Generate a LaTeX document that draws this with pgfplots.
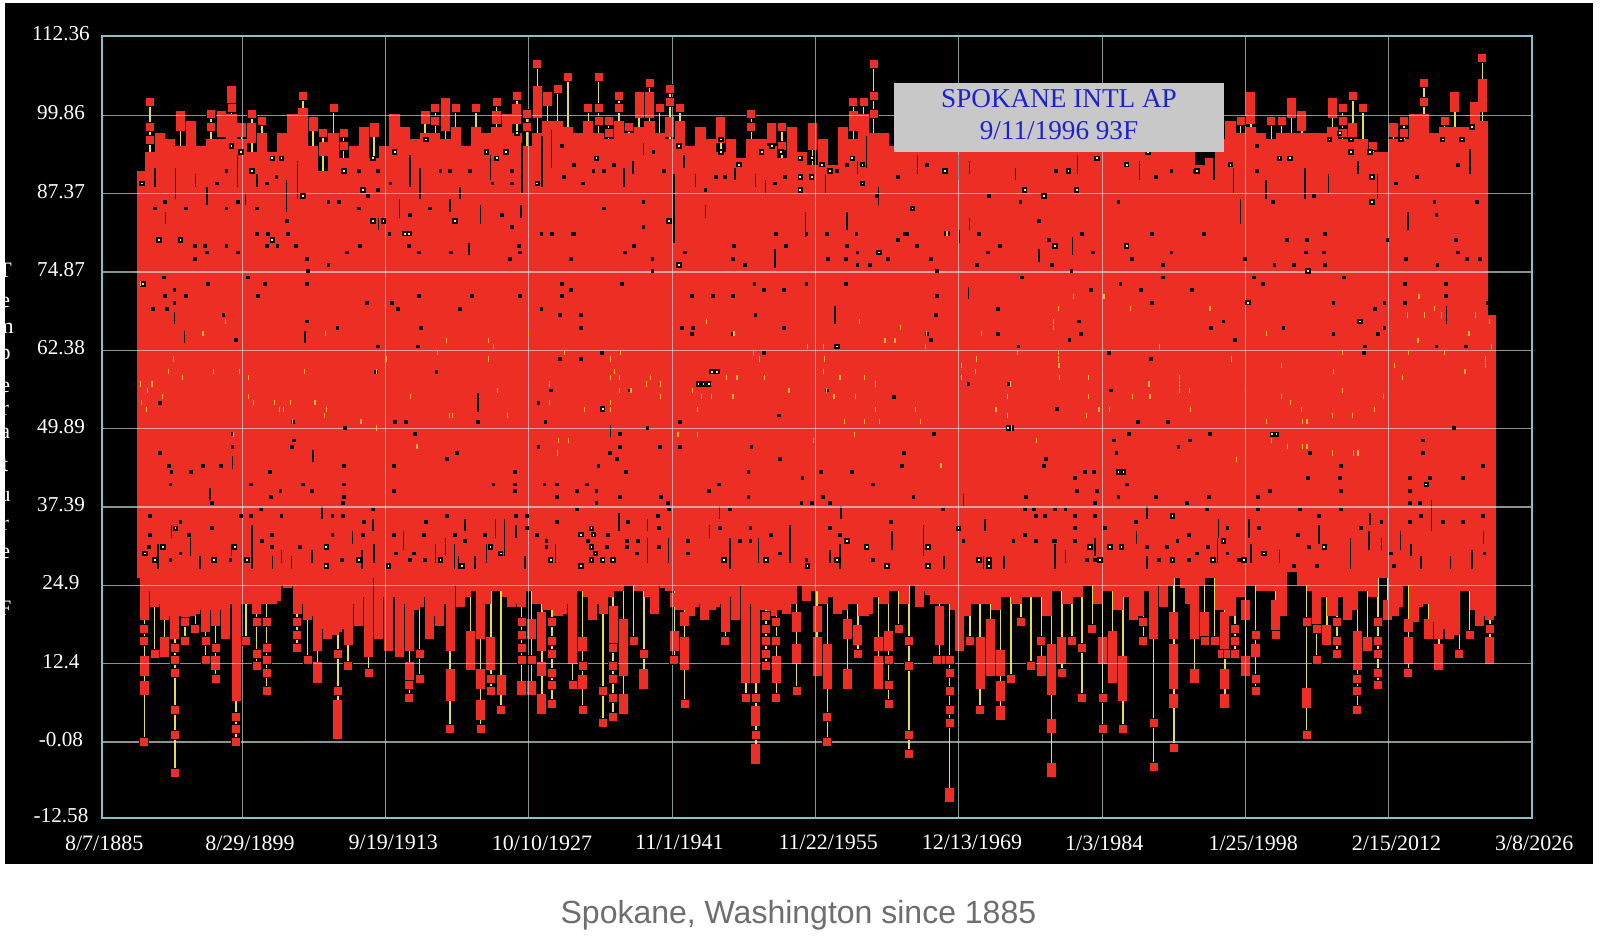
\documentclass[border=0pt]{standalone}
\usepackage{pgfplots}
\usepackage{pgfplotstable}
\usepackage{fontspec}
\pgfplotsset{compat=1.18}
\setmainfont{Liberation Serif}
\newfontfamily\capfont{Liberation Sans}
\definecolor{chartred}{HTML}{EC2E24}
\definecolor{stem}{HTML}{E4DC50}
\definecolor{ybright}{HTML}{FFE84A}
\definecolor{yorange}{HTML}{F7B52F}
\definecolor{frame}{HTML}{86C0C8}
\definecolor{gridc}{HTML}{CBE6E6}
\definecolor{boxgray}{HTML}{C8C8C8}
\definecolor{boxblue}{HTML}{1E22CC}
\definecolor{captiongray}{HTML}{6E6E6E}
\pgfplotsset{
  seg/.style 2 args={draw=none,mark=none,error bars/.cd,y dir=plus,y explicit,error mark=none,
    error bar style={line width=#1,color=#2,solid}},
  dots/.style 2 args={only marks,mark=square*,mark size=#1,mark options={draw=none,fill=#2,solid}},
}
\pgfplotstableread[row sep=\\]{x y\\
1902.6 80\\ 1912.5 83\\ 1913.5 83\\ 1915.6 81\\ 1920.5 83\\ 1891.5 80\\ 1893.6 80\\ 1889.8 89\\ 1889.9 73\\
1898.6 95\\ 1899.5 94\\ 1900.6 91\\ 1902.6 93\\ 1903.5 93\\ 1905.6 87\\ 1909.6 91\\ 1911.5 88\\ 1912.5 93\\ 1914.6 94\\ 1917.7 96\\ 1923.6 94\\ 1924.6 93\\
1925.5 94\\ 1926.6 97\\ 1934.4 93\\ 1928.6 89\\ 1942.5 95\\ 1946.6 96\\ 1946.6 94\\ 1952.5 94\\ 1948.4 92\\ 1956.5 92\\ 1960.5 92\\ 1959.5 93\\ 1960.5 89\\ 1954.4 88\\ 1955.5 90\\ 1954.4 90\\ 1957.3 91\\ 1941.5 83\\ 1950.6 94\\ 1951.6 95\\ 1954.4 93\\ 1955.5 93\\
1960.5 92\\ 1968.6 91\\ 1980.7 91\\ 1976.4 88\\ 1965.4 85\\ 1981.5 88\\ 1978.3 87\\ 1983.5 93\\ 1986.4 92\\ 1988.5 94\\ 1993.3 91\\ 1996.6 92\\ 2010.5 90\\ 2010.5 86\\ 2001.4 93\\ 2002.4 93\\ 2006.3 96\\ 2008.4 96\\ 2008.4 94\\ 2010.3 94\\ 2017.4 96\\ 2013.3 96\\ 2019.3 96\\ 2020.3 98\\ 2007.3 97\\
1916.0 81\\ 1893.1 34\\ 1891.9 31\\ 1898.9 31\\ 1890.1 30\\ 1891.1 29\\ 1896.9 29\\ 1900.1 29\\ 1907.9 31\\ 1924.0 31\\ 1925.0 30\\ 1919.1 29\\ 1929.9 29\\ 1932.9 33\\ 1933.9 34\\ 1933.9 29\\ 1911.1 29\\ 1914.0 28\\ 1921.2 28\\ 1907.9 28\\ 1932.9 28\\ 1933.9 31\\
1942.5 76\\ 1968.8 81\\ 1979.4 79\\ 1962.1 78\\ 1958.0 63\\ 1934.1 33\\ 1959.0 32\\ 1960.9 31\\ 1966.9 31\\ 1934.3 30\\ 1935.0 29\\ 1936.0 29\\ 1946.9 29\\ 1951.0 29\\ 1958.0 29\\ 1972.9 29\\ 1971.9 29\\ 1955.1 28\\ 1962.9 28\\ 1972.9 28\\ 1966.9 28\\ 1969.9 34\\
1935.0 53\\ 1945.7 59\\ 1946.2 59\\ 1944.4 57\\ 1944.9 57\\ 1945.4 57\\ 1974.8 50\\ 1975.1 50\\
1979.4 79\\ 1986.4 79\\ 1990.9 36\\ 1995.9 32\\ 1982.8 31\\ 1984.8 31\\ 1985.9 31\\ 2005.8 31\\ 1983.8 29\\ 1990.9 29\\ 1994.9 29\\ 1999.9 30\\ 1997.9 29\\ 1985.6 43\\ 1986.1 43\\ 2015.8 41\\ 2000.7 49\\ 2001.1 49\\ 2004.2 75\\ 2009.3 67\\ 1998.3 70\\
}\yflank
\begin{document}
\begin{tikzpicture}[x=1pt,y=1pt]
\useasboundingbox (0,0) rectangle (800,469.5);
\fill[white] (0,0) rectangle (800,469.5);
\fill[black] (2.5,37.5) rectangle (796.5,468);
\begin{scope}
\clip (2.5,37.5) rectangle (796.5,468);
\foreach \yy/\ll in {270/T,302/e,328/m,357/p,387/e,410/r,433/a,465/t,497/u,525/r,553/e,608/F}{
  \node[text=white,font=\fontsize{11}{12}\selectfont,inner sep=0pt] at (2.6,{(939-\yy)/2}) {\ll};}
\end{scope}
\begin{axis}[
  at={(51pt,60.35pt)},anchor=south west,
  scale only axis,width=715pt,height=391.3pt,
  xmin=1885.9,xmax=2026.18,ymin=-12.25,ymax=112.55,
  axis on top,
  xtick={1885.9,1899.66,1913.72,1927.77,1941.83,1955.89,1969.95,1984.01,1998.07,2012.13,2026.18},
  xticklabels={8/7/1885,8/29/1899,9/19/1913,10/10/1927,11/1/1941,11/22/1955,12/13/1969,1/3/1984,1/25/1998,2/15/2012,3/8/2026},
  ytick={-12.25,-0.08,12.4,24.9,37.39,49.89,62.38,74.87,87.37,99.86,112.55},
  yticklabels={-12.58,-0.08,12.4,24.9,37.39,49.89,62.38,74.87,87.37,99.86,112.36},
  major tick length=0pt,
  grid=major,
  grid style={line width=0.55pt,color=gridc,opacity=0.65},
  axis line style={line width=1.1pt,color=frame},
  xticklabel style={anchor=north west,xshift=-22pt,yshift=-5pt,text=white,font=\fontsize{11}{13}\selectfont},
  yticklabel style={anchor=center,xshift=-20.5pt,yshift=1.25pt,text=white,font=\fontsize{10.6}{12}\selectfont},
]
% yellow stems, summers
\addplot[seg={0.75pt}{stem}] table[x index=0,y index=1,y error expr=\thisrowno{2}-\thisrowno{1},row sep=\\]{x lo hi\\
1890.6 94 102\\ 1893.6 95 100\\ 1896.6 96 100\\ 1898.6 100 104\\ 1899.6 96 98\\ 1900.6 94 100\\ 1901.6 97 99\\ 1905.6 101 103\\ 1906.6 95 99\\ 1907.6 91 97\\ 1908.6 97 101\\ 1909.6 93 97\\ 1912.6 93 98\\ 1917.6 97 100\\ 1918.6 97 101\\ 1919.6 96 102\\ 1920.6 98 101\\ 1922.6 98 101\\ 1924.6 98 102\\ 1926.6 97 103\\ 1927.6 95 100\\ 1928.6 97 108\\ 1929.6 99 103\\ 1930.6 99 104\\ 1931.6 98 106\\ 1933.6 99 101\\ 1934.6 97 106\\ 1935.6 96 99\\ 1936.6 99 103\\ 1937.6 97 98\\ 1938.6 98 103\\ 1939.6 99 105\\ 1940.6 97 101\\ 1941.6 96 104\\ 1942.6 99 101\\ 1946.6 94 99\\ 1949.6 96 100\\ 1951.6 95 98\\ 1952.6 93 98\\ 1955.6 92 98\\ 1959.6 96 102\\ 1960.6 100 102\\ 1961.6 97 108\\ 1997.6 97 99\\ 1998.6 98 103\\ 2000.6 96 99\\ 2001.6 97 99\\ 2002.6 97 102\\ 2003.6 97 100\\ 2006.6 98 102\\ 2007.6 96 101\\ 2008.6 96 103\\ 2009.6 96 101\\ 2010.6 94 95\\ 2012.6 96 98\\ 2013.6 96 99\\ 2015.6 100 105\\ 2017.6 98 99\\ 2018.6 98 103\\ 2021.3 99 109\\
};
% yellow stems, winters: lowest value of each winter up into the body
\addplot[seg={0.75pt}{stem}] table[x index=0,y index=1,y error expr=26-\thisrowno{1},row sep=\\]{x lo\\
1890.05 0\\ 1891.05 14\\ 1892.05 14\\ 1893.05 -5\\ 1894.05 16\\ 1895.05 18\\ 1896.05 13\\ 1897.05 10\\ 1899.05 0\\ 1900.05 16\\ 1901.05 12\\ 1902.05 8\\ 1905.05 15\\ 1906.05 13\\ 1907.05 10\\ 1909.05 1\\ 1910.05 12\\ 1912.05 11\\ 1916.05 7\\ 1917.05 10\\ 1920.05 2\\ 1922.05 12\\ 1923.05 2\\ 1924.05 8\\ 1925.05 5\\ 1927.05 8\\ 1928.05 8\\ 1929.05 5\\ 1930.05 6\\ 1932.05 9\\ 1933.05 5\\ 1935.05 3\\ 1936.05 4\\ 1937.05 5\\ 1938.05 16\\ 1939.05 9\\ 1942.05 13\\ 1943.05 6\\ 1947.05 16\\ 1949.05 7\\ 1950.05 -3\\ 1951.05 12\\ 1952.05 7\\ 1954.05 8\\ 1956.05 11\\ 1957.05 0\\ 1959.05 9\\ 1960.05 14\\ 1962.05 9\\ 1963.05 6\\ 1964.05 18\\ 1965.05 -2\\ 1968.05 13\\ 1969.05 -9\\ 1970.05 15\\ 1971.05 16\\ 1972.05 5\\ 1973.05 11\\ 1974.05 4\\ 1975.05 10\\ 1976.05 19\\ 1977.05 12\\ 1978.05 11\\ 1979.05 -5\\ 1980.05 11\\ 1981.05 16\\ 1982.05 7\\ 1983.05 18\\ 1984.05 2\\ 1985.05 10\\ 1986.05 2\\ 1988.05 16\\ 1989.05 -4\\ 1991.05 -1\\ 1993.05 10\\ 1994.05 16\\ 1995.05 16\\ 1996.05 6\\ 1997.05 14\\ 1998.05 11\\ 1999.05 8\\ 2001.05 17\\ 2004.05 1\\ 2005.05 13\\ 2006.05 16\\ 2007.05 14\\ 2009.05 5\\ 2010.05 15\\ 2011.05 9\\ 2012.05 20\\ 2014.05 11\\ 2016.05 17\\ 2017.05 12\\ 2019.05 14\\ 2020.05 17\\ 2022.05 13\\
};
% solid body: one column per year, from the winter shoulder up to the summer top
\addplot[seg={5.15pt}{chartred}] table[x index=0,y index=1,y error expr=\thisrowno{2}-\thisrowno{1},row sep=\\]{x lo hi\\
1889.8 26 91\\ 1890.6 24 94\\ 1891.6 22 97\\ 1892.6 20 96\\ 1893.6 20 95\\ 1894.6 20 99\\ 1895.6 21 95\\ 1896.6 21 96\\ 1897.6 21 96\\ 1898.6 22 100\\ 1899.6 22 96\\
1900.6 22 94\\ 1901.6 22 97\\ 1902.6 22 94\\ 1903.6 25 97\\ 1904.6 25 100\\ 1905.6 22 101\\ 1906.6 20 95\\ 1907.6 18 91\\ 1908.6 17 97\\ 1909.6 18 93\\
1910.6 22 95\\ 1911.6 23 98\\ 1912.6 26 93\\ 1913.6 23 95\\ 1914.6 23 100\\ 1915.6 22 98\\ 1916.6 21 96\\ 1917.6 23 97\\ 1918.6 20 97\\ 1919.6 22 96\\
1920.6 25 98\\ 1921.6 23 95\\ 1922.6 24 98\\ 1923.6 22 97\\ 1924.6 24 98\\ 1925.6 23 100\\ 1926.6 22 97\\ 1927.6 24 95\\ 1928.6 22 97\\ 1929.6 21 99\\
1930.6 20 99\\ 1931.6 22 98\\ 1932.6 24 97\\ 1933.6 23 99\\ 1934.6 22 97\\ 1935.6 23 96\\ 1936.6 24 99\\ 1937.6 25 97\\ 1938.6 24 98\\ 1939.6 23 99\\
1940.6 25 97\\ 1941.6 24 96\\ 1942.6 21 99\\ 1943.6 20 95\\ 1944.6 22 98\\ 1945.6 21 96\\ 1946.6 22 94\\ 1947.6 23 96\\ 1948.6 25 93\\ 1949.6 22 96\\
1950.6 21 96\\ 1951.6 20 95\\ 1952.6 21 93\\ 1953.6 22 98\\ 1954.6 25 94\\ 1955.6 24 92\\ 1956.6 22 96\\ 1957.6 23 92\\ 1958.6 21 98\\ 1959.6 22 96\\
1960.6 20 100\\ 1961.6 23 97\\ 1962.6 22 97\\ 1963.6 24 95\\ 1964.6 22 95\\ 1965.6 25 95\\ 1966.6 24 95\\ 1967.6 22 95\\ 1968.6 22 95\\ 1969.6 21 95\\
1970.6 20 95\\ 1971.6 22 95\\ 1972.6 22 95\\ 1973.6 21 95\\ 1974.6 23 95\\ 1975.6 22 95\\ 1976.6 23 95\\ 1977.6 23 95\\ 1978.6 20 95\\ 1979.6 24 95\\
1980.6 22 95\\ 1981.6 23 95\\ 1982.6 25 95\\ 1983.6 22 95\\ 1984.6 24 95\\ 1985.6 21 95\\ 1986.6 23 95\\ 1987.6 20 95\\ 1988.6 24 95\\ 1989.6 25 95\\
1990.6 25 95\\ 1991.6 26 95\\ 1992.6 22 95\\ 1993.6 25 92\\ 1994.6 26 93\\ 1995.6 21 96\\ 1996.6 20 99\\ 1997.6 23 97\\ 1998.6 25 98\\ 1999.6 24 97\\
2000.6 24 96\\ 2001.6 20 97\\ 2002.6 27 97\\ 2003.6 25 97\\ 2004.6 24 97\\ 2005.6 23 97\\ 2006.6 20 98\\ 2007.6 23 96\\ 2008.6 21 96\\ 2009.6 24 96\\
2010.6 23 94\\ 2011.6 26 94\\ 2012.6 20 96\\ 2013.6 25 96\\ 2014.6 19 100\\ 2015.6 22 100\\ 2016.6 19 97\\ 2017.6 18 98\\ 2018.6 17 98\\ 2019.6 24 98\\
2020.6 21 102\\ 2021.4 20 99\\ 2022.1 20 68\\
};
% runs of red squares, summers and winters
\addplot[seg={4.5pt}{chartred}] table[x index=0,y expr=\thisrowno{1}-0.6,y error expr=\thisrowno{2}-\thisrowno{1}+1.2,row sep=\\]{x lo hi\\
1893.6 98 100\\ 1897.6 97 100\\ 1898.6 102 104\\ 1899.6 97 98\\ 1900.6 96 98\\ 1906.6 98 99\\ 1907.6 94 95\\ 1912.6 97 98\\ 1917.6 99 100\\ 1919.6 98 102\\ 1924.6 99 100\\ 1926.6 99 101\\ 1928.6 100 104\\ 1929.6 102 103\\ 1938.6 100 103\\ 1939.6 100 103\\ 1941.6 97 99\\ 1946.6 96 99\\ 1951.6 96 98\\ 1955.6 95 98\\ 1959.6 98 100\\ 1998.6 99 103\\ 2002.6 100 102\\ 2003.6 98 100\\ 2006.6 100 102\\ 2008.6 97 98\\ 2012.6 97 98\\ 2018.6 101 103\\ 2021.3 101 105\\
1890.05 23 26\\ 1890.05 20 22\\ 1890.05 11 13\\ 1890.05 8 9\\ 1891.05 22 26\\ 1892.05 20 26\\ 1892.05 14 16\\ 1893.05 20 26\\ 1893.05 17 20\\ 1894.05 20 26\\ 1895.05 21 26\\ 1896.05 18 26\\ 1897.05 19 26\\ 1897.05 12 13\\ 1898.05 17 26\\ 1899.05 17 26\\ 1899.05 12 16\\ 1899.05 7 11\\ 1901.05 21 26\\ 1902.05 23 26\\ 1903.05 23 26\\ 1904.05 25 26\\ 1905.05 21 26\\ 1906.05 20 26\\ 1907.05 15 26\\ 1907.05 10 12\\ 1908.05 17 26\\ 1909.05 18 26\\ 1909.05 1 6\\ 1910.05 16 26\\ 1911.05 19 26\\ 1912.05 14 26\\ 1913.05 17 26\\ 1914.05 15 26\\ 1915.05 14 26\\ 1916.05 15 26\\ 1916.05 10 12\\ 1917.05 22 26\\ 1918.05 17 26\\ 1919.05 19 26\\ 1920.05 22 26\\ 1920.05 15 21\\ 1920.05 7 11\\ 1921.05 22 26\\ 1922.05 12 17\\ 1923.05 17 26\\ 1923.05 9 11\\ 1923.05 4 6\\ 1924.05 12 16\\ 1925.05 8 10\\ 1926.05 22 26\\ 1927.05 22 26\\ 1927.05 8 9\\ 1928.05 17 19\\ 1928.05 8 9\\ 1929.05 15 20\\ 1929.05 11 12\\ 1929.05 5 7\\ 1931.05 21 26\\ 1932.05 17 26\\ 1932.05 13 16\\ 1933.05 15 16\\ 1933.05 9 10\\ 1934.05 20 26\\ 1935.05 21 24\\ 1936.05 16 21\\ 1937.05 16 19\\ 1937.05 11 15\\ 1937.05 5 7\\ 1939.05 9 11\\ 1940.05 21 26\\ 1941.05 25 26\\ 1942.05 22 23\\ 1942.05 15 17\\ 1943.05 19 20\\ 1943.05 12 16\\ 1944.05 22 26\\ 1945.05 20 26\\ 1946.05 22 26\\ 1947.05 18 26\\ 1948.05 20 26\\ 1949.05 15 26\\ 1949.05 10 14\\ 1950.05 13 22\\ 1950.05 10 12\\ 1950.05 3 5\\ 1950.05 -3 -1\\ 1952.05 10 13\\ 1953.05 21 26\\ 1954.05 18 20\\ 1954.05 13 15\\ 1955.05 23 26\\ 1956.05 18 21\\ 1956.05 11 16\\ 1957.05 12 15\\ 1957.05 9 11\\ 1958.05 21 26\\ 1959.05 17 19\\ 1959.05 9 11\\ 1960.05 16 18\\ 1961.05 21 26\\ 1962.05 15 16\\ 1962.05 9 13\\ 1963.05 15 17\\ 1966.05 22 26\\ 1967.05 24 26\\ 1968.05 16 21\\ 1969.05 -9 -8\\ 1970.05 15 21\\ 1972.05 9 16\\ 1973.05 11 19\\ 1974.05 11 14\\ 1974.05 7 9\\ 1974.05 4 5\\ 1978.05 11 13\\ 1979.05 8 15\\ 1979.05 2 3\\ 1979.05 -5 -4\\ 1980.05 13 16\\
1984.05 13 16\\ 1985.05 10 17\\ 1986.05 10 13\\ 1986.05 7 9\\ 1987.05 20 26\\ 1989.05 17 26\\ 1990.05 22 26\\ 1991.05 17 20\\ 1991.05 11 15\\ 1991.05 9 10\\ 1991.05 6 7\\ 1992.05 25 26\\ 1993.05 17 26\\ 1993.05 10 11\\ 1994.05 17 20\\ 1996.05 15 20\\ 1996.05 9 11\\ 1996.05 6 7\\ 1998.05 20 22\\ 1998.05 11 13\\ 1999.05 14 15\\ 2001.05 18 22\\ 2004.05 6 8\\ 2005.05 19 24\\ 2006.05 16 18\\ 2008.05 20 26\\ 2009.05 14 17\\ 2009.05 12 13\\ 2010.05 15 16\\ 2012.05 20 22\\ 2013.05 22 26\\ 2014.05 18 19\\ 2014.05 13 16\\ 2015.05 22 26\\ 2016.05 17 19\\ 2017.05 17 23\\ 2017.05 12 15\\ 2018.05 17 26\\ 2021.05 19 26\\ 2022.05 20 26\\ 2022.05 13 16\\
};
% single red squares
\addplot[dots={2.25pt}{chartred}] coordinates {
(1890.6,98)(1890.6,96)(1890.6,102)(1896.6,100)(1896.6,98)(1898.6,101)(1900.6,100)(1901.6,99)(1905.6,103)(1907.6,97)(1908.6,101)(1909.6,97)(1909.6,95)(1918.6,101)(1918.6,99)(1920.6,101)(1922.6,101)(1924.6,102)(1926.6,103)(1927.6,100)(1927.6,98)(1928.6,108)(1930.6,104)(1931.6,106)(1933.6,101)(1934.6,106)(1934.6,101)(1934.6,99)(1935.6,99)(1935.6,97)(1936.6,103)(1936.6,101)(1937.6,98)(1939.6,105)(1940.6,101)(1941.6,104)(1941.6,102)(1942.6,101)(1949.6,100)(1949.6,98)(1952.6,98)(1952.6,95)(1959.6,102)(1960.6,102)(1961.6,108)(1961.6,103)(1961.6,100)(1997.6,99)(2000.6,99)(2001.6,99)(2007.6,101)(2007.6,99)(2007.6,97)(2008.6,103)(2009.6,101)(2010.6,95)(2013.6,99)(2013.6,97)(2015.6,105)(2015.6,102)(2017.6,99)(2021.3,109)
(1890.05,18)(1890.05,16)(1890.05,0)(1891.05,14)(1893.05,15)(1893.05,13)(1893.05,11)(1893.05,5)(1893.05,1)(1893.05,-5)(1894.05,19)(1894.05,16)(1895.05,18)(1896.05,16)(1896.05,13)(1897.05,15)(1897.05,10)(1899.05,4)(1899.05,2)(1899.05,0)(1900.05,16)(1901.05,19)(1901.05,14)(1901.05,12)(1902.05,19)(1902.05,15)(1902.05,13)(1902.05,11)(1902.05,8)(1905.05,19)(1905.05,17)(1905.05,15)(1906.05,13)(1909.05,14)(1909.05,8)(1910.05,12)(1912.05,11)(1916.05,9)(1916.05,7)(1917.05,14)(1917.05,10)(1920.05,2)(1923.05,2)(1924.05,10)(1924.05,8)(1925.05,5)(1927.05,19)(1927.05,17)(1927.05,15)(1927.05,13)(1928.05,13)(1930.05,19)(1930.05,16)(1930.05,14)(1930.05,11)(1930.05,9)(1930.05,6)(1932.05,9)(1933.05,12)(1933.05,5)(1935.05,8)(1935.05,3)(1936.05,15)(1936.05,12)(1936.05,10)(1936.05,7)(1936.05,4)(1938.05,16)(1939.05,14)(1942.05,13)(1943.05,6)(1947.05,16)(1949.05,7)(1950.05,7)(1950.05,1)(1951.05,20)(1951.05,18)(1951.05,16)(1951.05,14)(1951.05,12)(1952.05,19)(1952.05,16)(1952.05,7)(1954.05,8)(1957.05,4)(1957.05,0)(1960.05,14)(1963.05,13)(1963.05,9)(1963.05,6)(1964.05,18)(1965.05,16)(1965.05,12)(1965.05,1)(1965.05,-2)(1968.05,13)(1968.3,13)(1967.8,13)(1969.05,13)(1969.05,11)(1969.05,8)(1969.05,5)(1969.05,3)(1971.05,16)(1972.05,5)(1975.05,10)(1976.05,19)(1977.05,12)(1978.05,16)(1980.05,11)(1981.05,16)(1982.05,15)(1982.05,7)(1983.05,18)
(1984.05,7)(1984.05,2)(1986.05,2)(1988.05,19)(1988.05,16)(1989.05,3)(1989.05,-4)(1991.05,-1)(1994.05,16)(1995.05,16)(1996.05,14)(1995.8,14)(1996.3,14)(1997.05,18)(1997.05,16)(1997.05,14)(1999.05,17)(1999.05,10)(1999.05,8)(2001.05,17)(2004.05,19)(2004.05,1)(2005.05,18)(2005.05,13)(2007.05,19)(2007.05,16)(2007.05,14)(2009.05,10)(2009.05,8)(2009.05,5)(2011.05,19)(2011.05,16)(2011.05,14)(2011.05,11)(2011.05,9)(2014.05,11)(2019.05,14)(2020.05,17)(2022.05,18)
};
% black gaps, tall
\addplot[seg={0.7pt}{black}] table[x index=0,y expr=\thisrowno{1}-0.5,y error expr=\thisrowno{2}-\thisrowno{1}+1,row sep=\\]{x lo hi\\
1921.9 78 79\\ 1893.0 67 68\\ 1894.0 64 65\\ 1905.8 64 65\\ 1922.8 53 55\\ 1906.6 45 46\\ 1898.7 44 45\\ 1896.5 39 40\\ 1907.5 36 37\\ 1921.5 34 35\\ 1912.5 34 35\\ 1892.7 33 34\\ 1924.5 33 35\\ 1925.4 33 35\\ 1926.5 33 34\\ 1900.6 31 34\\ 1910.5 32 33\\ 1915.5 31 33\\ 1894.6 30 32\\ 1912.6 29 31\\ 1919.6 30 32\\ 1925.4 30 32\\ 1930.4 29 31\\ 1898.6 30 31\\ 1918.6 29 31\\ 1920.5 28 31\\ 1923.6 29 31\\ 1891.4 28 31\\ 1895.5 28 29\\ 1900.6 28 30\\ 1902.6 28 29\\ 1903.5 29 30\\ 1904.5 28 29\\ 1906.5 29 30\\ 1911.4 28 30\\ 1922.5 28 29\\ 1927.4 28 29\\ 1920.9 28 29\\
1942.0 80 81\\ 1970.0 80 81\\ 1977.8 77 78\\ 1951.9 76 78\\ 1970.9 71 72\\ 1957.8 67 69\\ 1935.8 49 50\\ 1970.4 38 39\\ 1946.5 36 37\\ 1958.4 36 37\\ 1936.6 34 36\\ 1939.4 34 35\\ 1972.5 34 35\\ 1945.5 33 34\\ 1953.4 29 34\\ 1963.4 31 33\\ 1939.4 29 32\\ 1941.5 29 32\\ 1950.3 29 32\\ 1947.5 28 32\\ 1958.3 28 31\\ 1966.5 30 34\\ 1957.3 29 30\\ 1968.5 28 29\\ 1972.4 28 29\\ 1974.4 28 29\\ 1979.4 28 29\\
1981.1 78 80\\ 2017.8 67 69\\ 1988.4 36 37\\ 2016.3 34 38\\ 2010.3 35 36\\ 1995.4 33 35\\ 1998.4 33 35\\ 2021.4 32 33\\ 2005.3 32 34\\ 2010.2 31 33\\ 2011.4 31 32\\ 2013.3 31 33\\ 1987.4 32 33\\ 1983.3 30 32\\ 2014.3 30 31\\ 1979.4 29 31\\ 1980.4 29 30\\ 2001.4 29 30\\ 1995.3 29 32\\ 1998.6 29 31\\ 2008.4 28 32\\ 2015.3 28 29\\ 2020.3 28 30\\ 2018.2 28 29\\ 1988.4 28 29\\
1891.1 89 91\\ 1892.1 83 84\\ 1893.1 87 91\\ 1895.1 89 90\\ 1896.2 86 88\\ 1899.2 89 93\\ 1900.0 86 87\\ 1901.1 89 90\\ 1904.0 85 89\\ 1905.1 87 92\\ 1913.0 82 83\\ 1915.1 84 86\\ 1916.1 89 93\\ 1917.1 87 91\\ 1920.05 85 86\\ 1921.0 87 88\\ 1923.0 83 85\\
1924.0 90 93\\ 1927.1 88 95\\ 1929.05 89 96\\ 1930.0 92 97\\ 1937.1 89 91\\ 1938.0 91 92\\ 1939.0 94 95\\ 1942.0 87 90\\ 1943.0 92 93\\ 1944.1 89 90\\ 1948.0 90 91\\ 1950.0 89 90\\ 1951.0 88 89\\ 1956.9 88 90\\ 1960.0 91 92\\ 1960.9 92 96\\ 1962.1 86 88\\ 1927.0 84 85\\ 1942.0 80 88\\ 1945.1 84 85\\ 1954.9 81 84\\ 1959.0 82 84\\
1965.9 91 93\\ 1969.9 90 93\\ 1971.0 91 92\\ 1971.0 82 83\\ 1975.5 90 91\\ 1981.6 91 93\\ 1987.7 90 92\\ 1995.0 90 93\\ 1996.9 88 91\\ 1997.6 83 86\\ 2000.1 87 89\\ 2003.9 87 91\\ 2006.2 88 90\\ 2009.1 91 92\\ 2011.0 87 90\\ 2014.0 82 84\\ 2020.1 91 94\\
};
% black gaps, single
\addplot[dots={0.7pt}{black}] coordinates {
(1901.1,81)(1902.2,81)(1904.1,81)(1914.1,81)(1915.5,81)(1916.0,81)(1929.0,81)(1930.0,81)(1932.1,81)(1895.0,79)(1896.0,79)(1898.1,79)(1902.1,79)(1903.1,79)(1904.9,79)(1911.2,79)(1916.0,79)(1926.8,79)(1896.2,78)(1899.2,78)(1909.9,78)(1917.0,78)(1920.1,78)(1926.9,78)(1895.0,77)(1906.0,77)(1925.9,77)(1931.9,77)(1908.1,76)(1906.1,75)(1892.0,74)(1900.2,74)(1896.3,73)(1901.9,73)(1906.0,73)(1931.0,73)(1893.0,72)(1931.9,72)(1892.1,71)(1894.1,71)(1901.2,71)(1917.0,71)(1922.2,71)(1926.9,71)(1931.0,71)(1893.0,70)(1911.9,70)(1914.3,70)(1890.9,69)(1892.3,69)(1914.9,69)(1921.0,69)(1929.0,69)(1897.8,68)(1930.8,68)(1932.9,68)(1906.0,67)(1909.0,66)(1917.2,66)(1932.9,66)(1899.0,64)(1913.0,63)(1916.9,63)(1930.8,61)(1932.9,61)(1918.7,59)(1912.8,59)(1929.9,56)(1891.6,54)(1928.7,54)(1914.6,51)(1915.7,51)(1922.8,51)(1929.4,51)(1904.6,51)(1909.7,50)(1916.6,49)(1898.7,49)(1904.7,48)(1898.7,47)(1904.5,47)(1928.7,47)(1891.6,46)(1920.7,46)(1919.7,45)(1892.5,44)(1895.8,44)(1897.6,44)(1909.6,44)(1914.5,44)(1892.7,43)(1894.6,43)(1902.4,43)(1926.4,43)(1892.6,41)(1900.5,41)(1905.6,41)(1909.6,41)(1924.3,41)(1926.4,41)(1929.3,41)(1930.5,41)(1933.5,41)(1903.4,40)(1906.5,40)(1914.5,40)(1926.4,40)(1932.5,40)(1902.5,39)(1909.6,39)(1930.5,39)(1896.7,38)(1909.5,38)(1890.6,36)(1899.5,36)(1900.5,36)(1903.5,36)(1908.5,36)(1909.5,36)(1919.7,36)(1926.5,36)(1927.6,36)(1901.5,37)(1912.5,37)(1932.5,37)(1893.6,35)(1911.6,35)(1917.7,35)(1930.5,35)(1896.7,34)(1927.6,34)(1890.6,33)(1894.4,33)(1902.6,33)(1908.5,33)(1911.5,33)(1914.5,33)(1917.5,33)(1920.5,33)(1923.5,33)(1928.6,33)(1901.6,32)(1921.5,32)(1929.5,32)(1933.6,32)(1890.5,31)(1902.6,31)(1905.3,31)(1929.5,31)(1893.6,30)(1914.7,30)(1916.5,30)(1892.6,29)(1898.5,29)(1909.4,29)(1916.1,29)(1917.6,29)
(1955.0,81)(1957.0,81)(1959.9,81)(1964.9,81)(1971.9,81)(1952.0,81)(1964.0,80)(1978.8,80)(1938.1,79)(1947.9,79)(1953.0,79)(1959.0,79)(1965.8,79)(1974.0,79)(1979.4,79)(1937.2,78)(1943.1,78)(1960.0,78)(1972.8,78)(1939.9,77)(1947.8,77)(1957.1,77)(1958.9,77)(1963.0,77)(1967.2,77)(1949.0,76)(1960.0,76)(1961.2,76)(1971.7,76)(1979.1,76)(1939.9,75)(1967.8,75)(1976.1,74)(1936.9,73)(1949.9,73)(1955.0,73)(1958.9,73)(1950.8,72)(1952.8,72)(1943.8,71)(1945.8,71)(1947.8,71)(1967.8,71)(1973.8,69)(1950.0,68)(1967.7,68)(1942.8,66)(1943.9,66)(1952.8,66)(1943.8,65)(1947.8,65)(1966.8,65)(1973.8,65)(1967.2,64)(1958.0,63)(1975.8,63)(1934.9,62)(1950.8,62)(1974.9,57)(1970.9,57)(1937.7,56)(1957.0,56)(1963.6,55)(1952.3,52)(1942.6,51)(1939.4,50)(1936.7,49)(1967.5,49)(1936.7,47)(1940.6,47)(1942.6,47)(1949.6,47)(1935.7,46)(1964.6,46)(1936.4,45)(1952.4,45)(1978.5,45)(1934.6,44)(1964.4,44)(1978.3,44)(1937.3,43)(1949.3,43)(1956.4,43)(1959.5,43)(1954.6,42)(1946.4,41)(1961.5,41)(1934.4,40)(1945.4,40)(1936.7,39)(1940.7,39)(1949.3,39)(1956.6,39)(1965.5,39)(1976.5,39)(1934.4,38)(1941.4,38)(1954.5,38)(1955.5,38)(1957.3,38)(1941.5,37)(1947.5,37)(1968.4,37)(1976.4,37)(1977.3,37)(1940.4,36)(1977.5,36)(1978.4,36)(1937.5,35)(1963.3,35)(1940.5,34)(1946.5,34)(1949.5,34)(1957.3,34)(1935.5,33)(1951.5,33)(1976.4,33)(1958.3,33)(1937.4,32)(1938.5,32)(1943.4,32)(1948.5,32)(1949.5,32)(1970.4,32)(1975.3,32)(1977.5,32)(1979.4,32)(1935.4,31)(1940.5,31)(1937.4,31)(1938.4,30)(1943.4,30)(1952.4,30)(1961.5,29)(1955.0,29)
(1982.0,81)(1988.9,81)(1994.0,81)(2005.9,81)(2002.1,80)(2004.1,80)(2012.0,80)(2018.7,80)(1983.1,78)(1990.8,78)(2004.0,78)(2005.8,78)(2018.9,78)(1986.9,77)(1998.0,77)(2013.8,77)(2019.8,77)(2021.1,77)(1990.0,76)(2000.9,76)(2002.8,76)(2005.9,76)(2016.9,76)(1979.1,76)(1981.0,75)(1990.0,74)(1998.9,74)(2007.7,74)(1985.8,73)(1999.8,73)(2013.7,73)(2017.7,73)(1982.9,72)(1987.8,72)(1992.8,72)(2017.7,71)(1988.9,70)(2006.7,70)(2011.7,70)(2013.7,70)(2021.8,70)(2010.8,69)(1981.7,67)(1995.9,67)(1994.7,66)(2001.8,66)(2011.7,66)(1981.9,65)(2006.7,65)(2011.1,65)(1980.8,64)(1997.0,64)(2009.8,63)(2016.8,63)(2019.7,63)(1984.7,62)(2009.7,62)(1988.8,61)(1984.9,56)(1979.6,53)(1987.5,51)(1990.5,51)(2018.5,50)(1986.6,49)(1994.6,49)(1985.2,48)(1992.6,48)(2015.5,48)(1991.5,47)(1985.4,46)(2004.4,46)(2015.5,46)(2007.4,44)(2021.4,44)(1982.3,43)(1983.2,43)(1981.3,42)(1986.4,41)(2004.2,42)(2007.3,42)(2014.2,42)(2016.2,42)(2019.4,42)(1981.5,40)(1983.5,40)(2000.5,40)(2007.4,40)(2014.2,40)(1985.6,39)(1989.3,39)(1994.5,39)(1999.3,39)(1983.3,38)(1992.3,38)(2014.2,38)(2015.2,38)(1979.4,37)(1980.4,37)(1994.3,37)(1999.3,37)(2003.4,37)(2007.4,37)(1981.3,36)(1983.3,36)(2005.3,36)(2015.3,36)(2021.4,36)(1987.3,35)(2011.4,35)(2014.2,35)(2017.4,35)(2019.4,35)(1981.3,34)(1984.3,34)(1996.3,34)(1999.4,34)(2009.4,34)(1992.5,33)(2003.2,33)(1979.3,32)(1981.3,32)(1991.4,32)(1990.4,31)(1988.4,31)(1994.4,31)(2004.3,31)(1993.3,30)(1996.3,30)(2012.3,30)(2021.5,30)(1983.3,29)(1989.6,29)(1992.5,29)(1997.4,29)(1982.5,29)(2002.8,28)(2005.1,28)(2012.6,28)
(1892.1,86)(1891.1,85)(1894.1,85)(1897.2,89)(1898.1,91)(1898.1,85)(1899.2,86)(1901.1,85)(1902.1,89)(1903.0,90)(1904.0,83)(1908.1,86)(1909.1,86)(1911.1,91)(1911.1,85)(1912.0,87)(1913.0,91)(1913.0,88)(1914.2,89)(1916.1,84)(1918.1,85)(1919.1,91)(1920.05,91)(1922.0,91)(1924.2,89)(1926.1,91)(1926.1,89)(1931.0,95)(1931.2,90)(1932.2,92)(1933.1,89)(1934.1,91)(1935.1,91)(1936.1,92)(1940.0,94)(1941.0,91)(1945.1,88)(1946.1,90)(1947.0,90)(1951.9,89)(1952.9,90)(1958.0,91)(1959.0,92)(1925.1,84)(1926.1,82)(1939.0,86)(1939.0,82)(1932.2,81)(1935.1,85)(1957.0,81)
(1961.9,87)(1964.0,90)(1966.8,92)(1972.9,87)(1976.0,86)(1977.8,83)(1979.5,91)(1980.7,91)(1985.6,86)(1989.3,90)(1990.8,91)(1993.1,91)(1999.2,95)(1999.2,91)(2000.8,86)(2004.8,87)(2012.8,89)(2014.9,90)(2016.6,86)(2016.8,84)(2018.9,92)(2020.8,86)(1964.7,81)
};
% yellow specks with dark flanks, then their cores
\addplot[dots={1.15pt}{black}] table[x=x,y=y]{\yflank};
\addplot[dots={0.7pt}{ybright}] table[x=x,y=y]{\yflank};
% thin orange dashes in the body
\addplot[only marks,mark=|,mark size=1.3pt,mark options={line width=0.6pt,color=yorange,solid}] coordinates {
(1889.7,73)(1898.0,67)(1895.8,65)(1907.8,65)(1919.7,64)(1923.8,64)(1924.3,63)(1927.7,65)(1892.9,61)(1913.8,61)(1923.8,61)(1918.8,62)(1931.3,62)(1892.4,59)(1896.8,59)(1899.4,59)(1905.8,59)(1912.8,59)(1893.8,58)(1900.3,58)(1889.7,57)(1890.8,57)(1929.8,57)(1890.4,56)(1924.7,56)(1891.8,55)(1900.3,55)(1916.2,55)(1889.8,54)(1900.8,54)(1902.8,54)(1904.4,54)(1906.8,54)(1929.8,54)(1890.3,53)(1903.3,53)(1903.7,53)(1907.9,53)(1933.2,53)(1907.7,52)(1920.0,52)(1920.3,52)(1925.7,52)(1904.6,51)(1911.3,51)(1912.8,50)(1898.8,49)(1916.8,47)(1930.7,48)(1931.7,48)(1930.6,46)
(1968.8,81)(1945.2,67)(1960.2,67)(1964.2,66)(1979.2,66)(1947.9,65)(1966.8,65)(1972.2,65)(1962.7,64)(1963.7,64)(1955.1,63)(1956.7,63)(1966.7,63)(1936.8,62)(1949.8,62)(1975.7,62)(1935.8,61)(1950.4,61)(1956.8,61)(1971.7,61)(1936.2,59)(1956.7,59)(1971.6,59)(1970.2,60)(1979.8,60)(1935.8,58)(1936.7,58)(1939.7,58)(1947.2,58)(1948.2,58)(1950.9,58)(1958.3,58)(1960.7,58)(1970.2,58)(1979.8,58)(1939.3,57)(1940.7,57)(1961.8,57)(1975.0,57)(1936.7,56)(1937.8,56)(1943.8,56)(1953.3,56)(1957.0,56)(1940.7,55)(1944.7,55)(1945.7,55)(1947.8,55)(1957.7,55)(1959.8,55)(1974.7,55)(1935.8,54)(1935.8,53)(1944.3,53)(1961.8,53)(1965.7,53)(1973.6,53)(1974.7,52)(1958.7,51)(1960.7,51)(1962.2,51)(1966.2,51)(1975.1,50)(1942.4,49)(1944.3,49)(1959.7,49)(1955.7,48)(1977.6,48)(1968.2,44)
(1981.2,71)(1984.2,71)(2015.1,71)(1979.7,69)(1986.8,69)(1994.6,69)(2016.6,69)(1998.1,68)(2014.0,68)(2015.6,68)(2017.3,68)(2020.6,68)(1979.2,67)(2022.0,67)(2000.1,65)(2020.0,65)(1998.1,64)(2015.0,64)(1989.6,63)(2022.2,63)(2007.6,62)(2014.1,62)(2017.6,62)(1979.7,62)(1979.7,61)(1979.7,60)(1996.7,61)(2021.6,61)(2021.6,60)(2001.6,60)(2012.7,60)(2006.7,59)(2019.6,59)(1982.7,58)(2013.5,58)(1991.6,58)(1991.6,57)(1991.6,56)(1988.6,57)(1992.6,56)(1998.1,56)(2007.6,56)(1982.7,55)(1987.0,55)(1988.7,55)(2001.6,55)(2011.6,55)(2002.5,54)(1983.7,53)(1984.7,53)(1992.7,53)(2003.6,53)(2010.7,53)(1982.5,52)(2006.6,52)(2008.6,52)(2000.1,51)(2003.7,51)(2004.1,51)(2000.6,48)(2002.2,47)(2003.7,47)(2004.1,47)(2006.6,46)(2008.7,46)(2009.1,46)(1997.2,45)
};
\end{axis}
% annotation box
\fill[boxgray] (447,393.5) rectangle (612,428);
\node[text=boxblue,font=\fontsize{13.6}{16}\selectfont,align=center,inner sep=0pt] at (529.5,412) {SPOKANE INTL AP\\9/11/1996 93F};
% caption
\node[text=captiongray,font=\capfont\fontsize{16}{18}\selectfont,inner sep=0pt] at (399.2,12) {Spokane, Washington since 1885};
\end{tikzpicture}
\end{document}
